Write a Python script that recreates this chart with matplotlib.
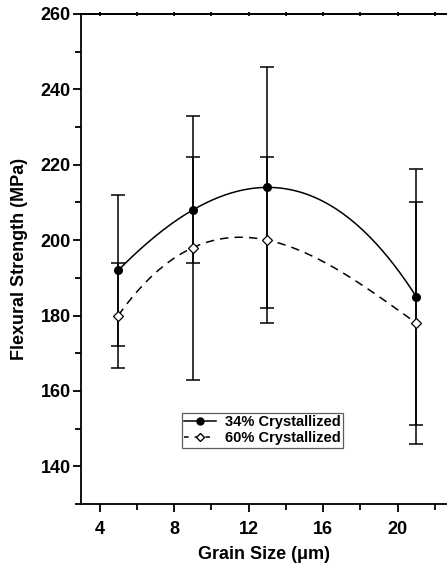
import numpy as np
import matplotlib
matplotlib.use('Agg')
import matplotlib.pyplot as plt
from matplotlib.lines import Line2D
from matplotlib.ticker import MultipleLocator

# grain size (um)
grain = [5, 9, 13, 21]

# flexural strength (MPa) and error bars
s34 = [192, 208, 214, 185]
e34 = [20, 14, 32, 34]
s60 = [180, 198, 200, 178]
e60 = [14, 35, 22, 32]

labels = ['34% Crystallized', '60% Crystallized']

plt.rcParams['font.family'] = ['Liberation Sans', 'DejaVu Sans']
plt.rcParams['font.weight'] = 'bold'

fig = plt.figure(figsize=(4.47, 5.70), dpi=100)
ax = fig.add_axes([81 / 447, 66 / 570, 366 / 447, 490 / 570])

# smooth curves through the points (cubic through the four points)
xs = np.linspace(min(grain), max(grain), 200)
c34 = np.polyfit(grain, s34, 3)
c60 = np.polyfit(grain, s60, 3)
ax.plot(xs, np.polyval(c34, xs), color='black', lw=1.1, zorder=2)
ax.plot(xs, np.polyval(c60, xs), color='black', lw=1.1, dashes=(5.5, 4), zorder=2)

# error bars
ax.errorbar(grain, s34, yerr=e34, fmt='none', ecolor='black', elinewidth=1.1,
            capsize=5, capthick=1.1, zorder=3)
ax.errorbar(grain, s60, yerr=e60, fmt='none', ecolor='black', elinewidth=1.1,
            capsize=5, capthick=1.1, zorder=3)

# markers
ax.plot(grain, s34, 'o', color='black', ms=5.5, zorder=4)
ax.plot(grain, s60, 'D', mfc='white', mec='black', mew=0.9, ms=5, zorder=4)

ax.set_xlim(3, 22.65)
ax.set_ylim(130, 260)
ax.xaxis.set_major_locator(MultipleLocator(4))
ax.xaxis.set_minor_locator(MultipleLocator(2))
ax.yaxis.set_major_locator(MultipleLocator(20))
ax.yaxis.set_minor_locator(MultipleLocator(10))

ax.spines['right'].set_visible(False)
for sp in ['left', 'bottom', 'top']:
    ax.spines[sp].set_linewidth(1.3)

ax.tick_params(axis='both', which='major', direction='out', length=6, width=1.3,
               labelsize=13, pad=1.5)
ax.tick_params(axis='both', which='minor', direction='out', length=4, width=1.3)
ax.tick_params(axis='x', which='major', pad=6)

# tiny ticks on the top axis
top = ax.secondary_xaxis('top')
top.xaxis.set_major_locator(MultipleLocator(4))
top.xaxis.set_minor_locator(MultipleLocator(2))
top.tick_params(which='both', direction='inout', length=2.5, width=1.3, labeltop=False)
top.spines['top'].set_linewidth(1.3)

for lab in ax.get_xticklabels() + ax.get_yticklabels():
    lab.set_fontweight('bold')

ax.set_xlabel('Grain Size (\u03bcm)', fontsize=13, fontweight='bold', labelpad=6)
ax.set_ylabel('Flexural Strength (MPa)', fontsize=13, fontweight='bold', labelpad=9)

handles = [
    Line2D([], [], color='black', lw=1.1, marker='o', ms=5),
    Line2D([], [], color='black', lw=1.1, dashes=(3, 4), marker='D',
           mfc='white', mec='black', ms=4.5),
]
leg = ax.legend(handles, labels, loc='upper left',
                bbox_to_anchor=((182 - 81) / 366, (504 - 413) / 490),
                prop={'weight': 'bold', 'size': 10.5}, frameon=True, fancybox=False,
                edgecolor='#333333', handlelength=2.2, handletextpad=0.6,
                borderpad=0.15, labelspacing=0.15, borderaxespad=0)
leg.get_frame().set_linewidth(0.9)

plt.savefig('out.png', dpi=100)
